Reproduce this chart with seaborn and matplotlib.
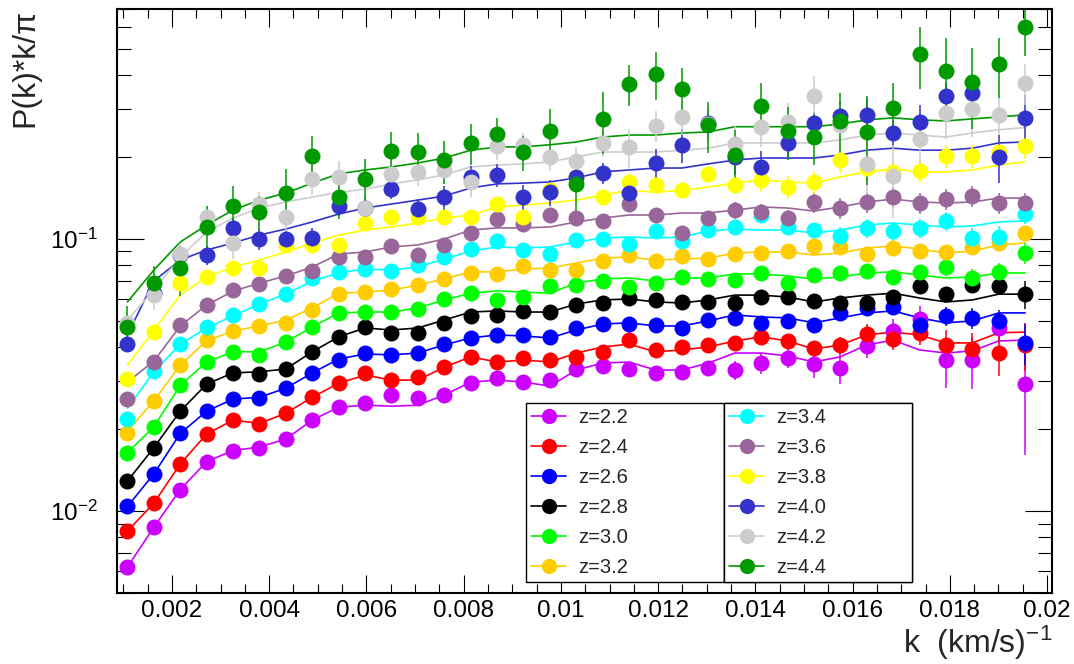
import matplotlib
matplotlib.use("Agg")
import numpy as np
import pandas as pd
import matplotlib.pyplot as plt
import seaborn as sns
from matplotlib.lines import Line2D
from matplotlib.ticker import MultipleLocator, FuncFormatter, LogLocator, NullFormatter

# k bins (km/s)^-1
k = [0.001086, 0.001629, 0.002172, 0.002715, 0.003258, 0.003801, 0.004344,
     0.004887, 0.005430, 0.005973, 0.006516, 0.007059, 0.007602, 0.008145,
     0.008688, 0.009231, 0.009774, 0.010317, 0.010860, 0.011403, 0.011946,
     0.012489, 0.013032, 0.013575, 0.014118, 0.014661, 0.015204, 0.015747,
     0.016290, 0.016833, 0.017376, 0.017919, 0.018462, 0.019005, 0.019548]

labels = ["z=2.2", "z=2.4", "z=2.6", "z=2.8", "z=3.0", "z=3.2",
          "z=3.4", "z=3.6", "z=3.8", "z=4.0", "z=4.2", "z=4.4"]
colors = ["#cc00ff", "#ff0000", "#0000ff", "#000000", "#00ff00", "#ffcc00",
          "#00ffff", "#996699", "#ffff00", "#3333cc", "#cccccc", "#009900"]

# measured P(k)k/pi, model curve, relative errors
z22_val = [0.00623, 0.00873, 0.0120, 0.0152, 0.0167, 0.0170, 0.0184, 0.0216, 0.0241, 0.0250, 0.0267, 0.0260, 0.0267, 0.0295, 0.0308, 0.0298, 0.0303, 0.0333, 0.0341, 0.0333, 0.0322, 0.0325, 0.0336, 0.0330, 0.0350, 0.0365, 0.0347, 0.0336, 0.0405, 0.0459, 0.0508, 0.0359, 0.0359, 0.0471, 0.0293]
z22_fit = [0.00623, 0.00873, 0.0120, 0.0152, 0.0167, 0.0172, 0.0184, 0.0216, 0.0241, 0.0245, 0.0243, 0.0245, 0.0267, 0.0298, 0.0303, 0.0298, 0.0288, 0.0330, 0.0350, 0.0353, 0.0330, 0.0330, 0.0350, 0.0381, 0.0381, 0.0372, 0.0353, 0.0369, 0.0408, 0.0425, 0.0391, 0.0381, 0.0388, 0.0422, 0.0425]
z22_err = [0.02, 0.02, 0.02, 0.02, 0.02, 0.02, 0.02, 0.02, 0.02, 0.02, 0.02, 0.02, 0.02, 0.02, 0.03, 0.03, 0.03, 0.03, 0.03, 0.03, 0.03, 0.03, 0.06, 0.08, 0.09, 0.08, 0.11, 0.13, 0.10, 0.11, 0.12, 0.21, 0.22, 0.12, 0.45]

z24_val = [0.00844, 0.0107, 0.0149, 0.0192, 0.0216, 0.0209, 0.0229, 0.0262, 0.0295, 0.0322, 0.0303, 0.0311, 0.0338, 0.0369, 0.0353, 0.0365, 0.0359, 0.0369, 0.0385, 0.0425, 0.0391, 0.0401, 0.0408, 0.0415, 0.0437, 0.0422, 0.0398, 0.0408, 0.0448, 0.0429, 0.0452, 0.0408, 0.0394, 0.0381, 0.0408]
z24_fit = [0.00844, 0.0107, 0.0149, 0.0192, 0.0216, 0.0210, 0.0229, 0.0262, 0.0295, 0.0316, 0.0303, 0.0303, 0.0338, 0.0369, 0.0353, 0.0359, 0.0353, 0.0381, 0.0401, 0.0411, 0.0385, 0.0391, 0.0401, 0.0422, 0.0437, 0.0422, 0.0394, 0.0408, 0.0444, 0.0455, 0.0444, 0.0415, 0.0415, 0.0452, 0.0455]
z24_err = [0.02, 0.02, 0.02, 0.02, 0.02, 0.02, 0.02, 0.02, 0.02, 0.02, 0.02, 0.02, 0.02, 0.02, 0.02, 0.02, 0.02, 0.02, 0.02, 0.02, 0.02, 0.05, 0.05, 0.05, 0.05, 0.05, 0.06, 0.07, 0.085, 0.09, 0.10, 0.13, 0.15, 0.18, 0.20]

z26_val = [0.0104, 0.0137, 0.0193, 0.0233, 0.0258, 0.0260, 0.0283, 0.0322, 0.0359, 0.0381, 0.0375, 0.0381, 0.0411, 0.0433, 0.0444, 0.0444, 0.0437, 0.0471, 0.0487, 0.0487, 0.0483, 0.0471, 0.0504, 0.0513, 0.0492, 0.0500, 0.0483, 0.0535, 0.0558, 0.0563, 0.0483, 0.0522, 0.0513, 0.0500, 0.0415]
z26_fit = [0.0104, 0.0137, 0.0193, 0.0233, 0.0258, 0.0262, 0.0283, 0.0322, 0.0362, 0.0378, 0.0375, 0.0381, 0.0408, 0.0433, 0.0444, 0.0440, 0.0433, 0.0463, 0.0487, 0.0492, 0.0479, 0.0479, 0.0500, 0.0526, 0.0517, 0.0513, 0.0492, 0.0513, 0.0535, 0.0544, 0.0513, 0.0492, 0.0500, 0.0535, 0.0535]
z26_err = [0.02, 0.02, 0.02, 0.02, 0.02, 0.02, 0.02, 0.02, 0.02, 0.02, 0.02, 0.02, 0.02, 0.02, 0.02, 0.02, 0.02, 0.02, 0.02, 0.02, 0.02, 0.02, 0.02, 0.04, 0.04, 0.04, 0.04, 0.04, 0.05, 0.06, 0.08, 0.08, 0.09, 0.10, 0.17]

z28_val = [0.0129, 0.0171, 0.0233, 0.0293, 0.0322, 0.0319, 0.0333, 0.0385, 0.0437, 0.0475, 0.0452, 0.0452, 0.0492, 0.0522, 0.0526, 0.0544, 0.0539, 0.0572, 0.0582, 0.0607, 0.0597, 0.0587, 0.0587, 0.0582, 0.0612, 0.0612, 0.0592, 0.0582, 0.0582, 0.0612, 0.0671, 0.0627, 0.0677, 0.0671, 0.0627]
z28_fit = [0.0129, 0.0171, 0.0233, 0.0293, 0.0322, 0.0325, 0.0333, 0.0385, 0.0437, 0.0471, 0.0463, 0.0471, 0.0504, 0.0539, 0.0544, 0.0539, 0.0539, 0.0577, 0.0597, 0.0602, 0.0587, 0.0582, 0.0597, 0.0622, 0.0622, 0.0612, 0.0587, 0.0607, 0.0622, 0.0632, 0.0607, 0.0587, 0.0597, 0.0627, 0.0627]
z28_err = [0.02, 0.02, 0.02, 0.02, 0.02, 0.02, 0.02, 0.02, 0.02, 0.02, 0.02, 0.02, 0.02, 0.02, 0.02, 0.02, 0.02, 0.02, 0.02, 0.02, 0.02, 0.02, 0.02, 0.02, 0.02, 0.02, 0.02, 0.02, 0.04, 0.04, 0.04, 0.04, 0.06, 0.06, 0.12]

z30_val = [0.0164, 0.0204, 0.0290, 0.0353, 0.0385, 0.0375, 0.0418, 0.0475, 0.0535, 0.0539, 0.0539, 0.0553, 0.0602, 0.0632, 0.0597, 0.0612, 0.0671, 0.0677, 0.0701, 0.0665, 0.0689, 0.0725, 0.0713, 0.0707, 0.0750, 0.0689, 0.0737, 0.0750, 0.0763, 0.0725, 0.0757, 0.0789, 0.0719, 0.0757, 0.0888]
z30_fit = [0.0164, 0.0204, 0.0290, 0.0353, 0.0385, 0.0385, 0.0418, 0.0475, 0.0535, 0.0539, 0.0539, 0.0558, 0.0597, 0.0632, 0.0645, 0.0638, 0.0632, 0.0689, 0.0713, 0.0719, 0.0701, 0.0719, 0.0719, 0.0744, 0.0744, 0.0731, 0.0713, 0.0725, 0.0750, 0.0757, 0.0737, 0.0719, 0.0725, 0.0750, 0.0750]
z30_err = [0.02, 0.02, 0.02, 0.02, 0.02, 0.02, 0.02, 0.02, 0.02, 0.02, 0.02, 0.02, 0.02, 0.02, 0.02, 0.02, 0.02, 0.02, 0.02, 0.02, 0.02, 0.02, 0.02, 0.02, 0.02, 0.02, 0.04, 0.04, 0.04, 0.04, 0.06, 0.07, 0.08, 0.08, 0.09]

z32_val = [0.0194, 0.0254, 0.0344, 0.0425, 0.0459, 0.0479, 0.0492, 0.0548, 0.0627, 0.0638, 0.0656, 0.0677, 0.0713, 0.0750, 0.0744, 0.0795, 0.0769, 0.0769, 0.0830, 0.0873, 0.0830, 0.0866, 0.0844, 0.0880, 0.0888, 0.0903, 0.0943, 0.0935, 0.0880, 0.0927, 0.0903, 0.0896, 0.0935, 0.0967, 0.1052]
z32_fit = [0.0197, 0.0254, 0.0344, 0.0422, 0.0459, 0.0479, 0.0504, 0.0558, 0.0632, 0.0638, 0.0649, 0.0677, 0.0713, 0.0757, 0.0757, 0.0776, 0.0782, 0.0816, 0.0851, 0.0858, 0.0837, 0.0844, 0.0851, 0.0888, 0.0896, 0.0896, 0.0873, 0.0888, 0.0927, 0.0943, 0.0919, 0.0888, 0.0903, 0.0951, 0.0967]
z32_err = [0.02, 0.02, 0.02, 0.02, 0.02, 0.02, 0.02, 0.02, 0.02, 0.02, 0.02, 0.02, 0.02, 0.02, 0.02, 0.02, 0.02, 0.02, 0.02, 0.02, 0.02, 0.02, 0.02, 0.02, 0.02, 0.02, 0.06, 0.06, 0.06, 0.06, 0.06, 0.06, 0.06, 0.06, 0.06]

z34_val = [0.0218, 0.0327, 0.0411, 0.0475, 0.0526, 0.0577, 0.0627, 0.0719, 0.0757, 0.0776, 0.0763, 0.0802, 0.0858, 0.0919, 0.0985, 0.0911, 0.0880, 0.0992, 0.1000, 0.0959, 0.1070, 0.0985, 0.1079, 0.1107, 0.1225, 0.1107, 0.1079, 0.1025, 0.1098, 0.1070, 0.1098, 0.1165, 0.1008, 0.1017, 0.1235]
z34_fit = [0.0239, 0.0325, 0.0411, 0.0471, 0.0522, 0.0577, 0.0627, 0.0701, 0.0750, 0.0776, 0.0769, 0.0789, 0.0844, 0.0903, 0.0935, 0.0927, 0.0935, 0.0975, 0.1008, 0.1017, 0.1008, 0.1017, 0.1070, 0.1088, 0.1079, 0.1079, 0.1052, 0.1079, 0.1126, 0.1145, 0.1126, 0.1107, 0.1116, 0.1155, 0.1165]
z34_err = [0.02, 0.02, 0.02, 0.02, 0.02, 0.02, 0.02, 0.02, 0.02, 0.02, 0.02, 0.02, 0.02, 0.02, 0.02, 0.02, 0.02, 0.02, 0.02, 0.02, 0.02, 0.05, 0.05, 0.05, 0.05, 0.05, 0.05, 0.08, 0.08, 0.08, 0.08, 0.08, 0.09, 0.10, 0.08]

z36_val = [0.0258, 0.0353, 0.0483, 0.0572, 0.0649, 0.0683, 0.0731, 0.0763, 0.0858, 0.0858, 0.0943, 0.0873, 0.0951, 0.1052, 0.1184, 0.1135, 0.1225, 0.1194, 0.1165, 0.1344, 0.1225, 0.1052, 0.1194, 0.1278, 0.1257, 0.1194, 0.1368, 0.1300, 0.1368, 0.1426, 0.1356, 0.1402, 0.1438, 0.1356, 0.1356]
z36_fit = [0.0298, 0.0356, 0.0479, 0.0572, 0.0643, 0.0689, 0.0731, 0.0789, 0.0880, 0.0896, 0.0935, 0.0951, 0.1000, 0.1079, 0.1098, 0.1098, 0.1107, 0.1155, 0.1194, 0.1225, 0.1225, 0.1246, 0.1246, 0.1278, 0.1311, 0.1300, 0.1267, 0.1311, 0.1368, 0.1402, 0.1368, 0.1356, 0.1368, 0.1414, 0.1414]
z36_err = [0.02, 0.02, 0.02, 0.02, 0.02, 0.02, 0.02, 0.02, 0.02, 0.02, 0.02, 0.02, 0.02, 0.02, 0.02, 0.02, 0.05, 0.05, 0.05, 0.05, 0.05, 0.05, 0.05, 0.07, 0.07, 0.07, 0.09, 0.09, 0.09, 0.09, 0.09, 0.09, 0.09, 0.09, 0.09]

z38_val = [0.0306, 0.0455, 0.0689, 0.0725, 0.0782, 0.0782, 0.0951, 0.0951, 0.0951, 0.1145, 0.1205, 0.1205, 0.1205, 0.1205, 0.1344, 0.1205, 0.151, 0.169, 0.1426, 0.1620, 0.1580, 0.151, 0.1736, 0.1580, 0.1650, 0.1552, 0.1620, 0.195, 0.1823, 0.1764, 0.1779, 0.2020, 0.2020, 0.2087, 0.2195]
z38_fit = [0.0344, 0.0463, 0.0622, 0.0725, 0.0789, 0.0837, 0.0896, 0.0967, 0.1034, 0.1079, 0.1107, 0.1145, 0.1194, 0.1225, 0.1311, 0.1333, 0.1356, 0.139, 0.145, 0.151, 0.1485, 0.151, 0.1552, 0.1605, 0.1650, 0.1620, 0.1605, 0.1692, 0.1764, 0.1808, 0.1764, 0.1764, 0.1793, 0.187, 0.1922]
z38_err = [0.03, 0.03, 0.03, 0.03, 0.03, 0.03, 0.03, 0.03, 0.03, 0.04, 0.04, 0.04, 0.04, 0.04, 0.04, 0.04, 0.04, 0.06, 0.06, 0.06, 0.06, 0.06, 0.06, 0.07, 0.10, 0.10, 0.10, 0.10, 0.10, 0.10, 0.10, 0.10, 0.10, 0.10, 0.10]

z40_val = [0.0411, 0.0632, 0.0873, 0.0873, 0.1098, 0.1000, 0.1000, 0.1008, 0.1322, 0.1300, 0.1527, 0.1289, 0.1426, 0.1692, 0.172, 0.1426, 0.1485, 0.1692, 0.1750, 0.1476, 0.1903, 0.222, 0.2669, 0.2004, 0.1840, 0.2254, 0.2669, 0.2834, 0.286, 0.2452, 0.2692, 0.3354, 0.3445, 0.2004, 0.2787]
z40_fit = [0.0444, 0.0701, 0.0837, 0.0911, 0.0967, 0.1034, 0.1088, 0.1155, 0.1235, 0.1300, 0.1344, 0.139, 0.1438, 0.1540, 0.1594, 0.1605, 0.1620, 0.1678, 0.1764, 0.1793, 0.1823, 0.1823, 0.1888, 0.195, 0.1984, 0.1984, 0.1984, 0.2036, 0.212, 0.2156, 0.212, 0.212, 0.2156, 0.2254, 0.2272]
z40_err = [0.06, 0.06, 0.07, 0.08, 0.085, 0.09, 0.09, 0.09, 0.08, 0.09, 0.08, 0.09, 0.10, 0.10, 0.10, 0.11, 0.11, 0.11, 0.09, 0.11, 0.13, 0.14, 0.13, 0.14, 0.14, 0.11, 0.10, 0.12, 0.14, 0.12, 0.15, 0.12, 0.12, 0.20, 0.21]

z42_val = [0.0492, 0.0622, 0.0880, 0.1205, 0.0967, 0.1344, 0.1205, 0.1665, 0.1692, 0.1300, 0.1736, 0.1764, 0.1793, 0.1620, 0.2195, 0.222, 0.2004, 0.1935, 0.2254, 0.2179, 0.2606, 0.2808, 0.2646, 0.2237, 0.2586, 0.2692, 0.3354, 0.2627, 0.1888, 0.1707, 0.2330, 0.2906, 0.3006, 0.2860, 0.3744]
z42_fit = [0.0504, 0.0649, 0.0858, 0.1061, 0.1194, 0.1300, 0.1368, 0.1426, 0.1485, 0.1524, 0.1594, 0.1650, 0.172, 0.1840, 0.187, 0.1888, 0.1920, 0.2004, 0.2087, 0.2087, 0.2087, 0.212, 0.2156, 0.2254, 0.2254, 0.2254, 0.2254, 0.2312, 0.241, 0.2452, 0.241, 0.2370, 0.2452, 0.252, 0.2567]
z42_err = [0.10, 0.12, 0.10, 0.10, 0.13, 0.11, 0.12, 0.13, 0.14, 0.12, 0.12, 0.11, 0.11, 0.12, 0.11, 0.10, 0.11, 0.13, 0.11, 0.16, 0.13, 0.14, 0.15, 0.16, 0.16, 0.17, 0.18, 0.19, 0.25, 0.30, 0.20, 0.20, 0.21, 0.16, 0.17]

z44_val = [0.0475, 0.0689, 0.0782, 0.1107, 0.1322, 0.1257, 0.1476, 0.2020, 0.1426, 0.1665, 0.2104, 0.2087, 0.195, 0.2254, 0.2432, 0.2087, 0.2494, 0.1594, 0.2763, 0.3713, 0.4044, 0.3557, 0.2627, 0.2036, 0.3084, 0.2494, 0.2370, 0.2716, 0.2473, 0.3032, 0.4790, 0.4146, 0.3776, 0.4393, 0.6014]
z44_fit = [0.0587, 0.0769, 0.0975, 0.1126, 0.1278, 0.139, 0.1476, 0.1605, 0.1736, 0.1793, 0.1840, 0.1903, 0.1984, 0.212, 0.2179, 0.2179, 0.222, 0.2272, 0.2370, 0.241, 0.241, 0.2452, 0.2473, 0.2586, 0.2586, 0.2586, 0.2586, 0.2646, 0.2740, 0.2787, 0.2740, 0.2716, 0.2763, 0.2808, 0.2860]
z44_err = [0.19, 0.15, 0.21, 0.19, 0.18, 0.145, 0.23, 0.18, 0.17, 0.18, 0.18, 0.17, 0.18, 0.17, 0.145, 0.145, 0.20, 0.21, 0.26, 0.17, 0.20, 0.19, 0.21, 0.24, 0.21, 0.22, 0.21, 0.27, 0.36, 0.23, 0.26, 0.32, 0.33, 0.25, 0.22]

values = [z22_val, z24_val, z26_val, z28_val, z30_val, z32_val,
          z34_val, z36_val, z38_val, z40_val, z42_val, z44_val]
fits = [z22_fit, z24_fit, z26_fit, z28_fit, z30_fit, z32_fit,
        z34_fit, z36_fit, z38_fit, z40_fit, z42_fit, z44_fit]
errors = [z22_err, z24_err, z26_err, z28_err, z30_err, z32_err,
          z34_err, z36_err, z38_err, z40_err, z42_err, z44_err]

sns.set_theme(style="ticks")
plt.rcParams["font.family"] = ["Liberation Sans", "DejaVu Sans"]
plt.rcParams["mathtext.fontset"] = "custom"
plt.rcParams["mathtext.rm"] = "Liberation Sans"
plt.rcParams["mathtext.it"] = "Liberation Sans:italic"
plt.rcParams["mathtext.default"] = "regular"

fig = plt.figure(figsize=(10.74, 6.64), dpi=100)
ax = fig.add_axes([0.1089, 0.1069, 0.8706, 0.8795])

# model curves
fit_df = pd.concat([pd.DataFrame({"k": k, "fit": f, "z": lab}) for lab, f in zip(labels, fits)],
                   ignore_index=True)
sns.lineplot(data=fit_df, x="k", y="fit", hue="z", hue_order=labels,
             palette=dict(zip(labels, colors)), estimator=None, sort=False,
             legend=False, linewidth=1.2, ax=ax)

# data points with error bars
for col, val, err in zip(colors, values, errors):
    v = np.array(val)
    ax.errorbar(k, v, yerr=v * np.array(err), fmt="o", color=col, ms=11.5, mew=0,
                elinewidth=1.1, capsize=3.5, capthick=1.1)

ax.set_yscale("log")
ax.set_xlim(0.00087, 0.0201)
ax.set_ylim(0.005, 0.70)
ax.xaxis.set_major_locator(MultipleLocator(0.002))
ax.xaxis.set_minor_locator(MultipleLocator(0.0005))
ax.xaxis.set_major_formatter(FuncFormatter(lambda v, p: "%g" % v))
ax.yaxis.set_major_locator(LogLocator(base=10))
ax.yaxis.set_minor_locator(LogLocator(base=10, subs=np.arange(2, 10)))
ax.yaxis.set_minor_formatter(NullFormatter())

ax.tick_params(which="both", direction="in", top=True, right=True, width=0.8, colors="black")
ax.tick_params(axis="x", which="major", length=13, pad=5, labelsize=17.5)
ax.tick_params(axis="x", which="minor", length=6.5)
ax.tick_params(axis="y", which="major", length=19.5, pad=14, labelsize=17.5)
ax.tick_params(axis="y", which="minor", length=10)
for s in ax.spines.values():
    s.set_linewidth(1.5)
    s.set_color("black")

ax.set_xlabel("k  (km/s)$^{-1}$", loc="right", fontsize=23, labelpad=1)
ax.set_ylabel("P(k)*k/π", loc="top", fontsize=23, labelpad=7)

handles = [Line2D([0], [0], color=c, marker="o", ms=11, mew=0, lw=1.2) for c in colors]
boxes = [(526, 198), (724, 188)]
for i, (x0, w) in enumerate(boxes):
    leg = ax.legend(handles[6 * i:6 * i + 6], labels[6 * i:6 * i + 6], loc="upper left",
                    bbox_to_anchor=(x0 / 1074, 1 - 403 / 664, w / 1074, 0),
                    bbox_transform=fig.transFigure, mode="expand", borderaxespad=0,
                    fontsize=14.5, frameon=True, fancybox=False, edgecolor="black",
                    framealpha=1, handlelength=1.7, handletextpad=0.6,
                    labelspacing=0.54, borderpad=0.27)
    leg.get_frame().set_linewidth(1.0)
    ax.add_artist(leg)

fig.savefig("out.png", dpi=100)
